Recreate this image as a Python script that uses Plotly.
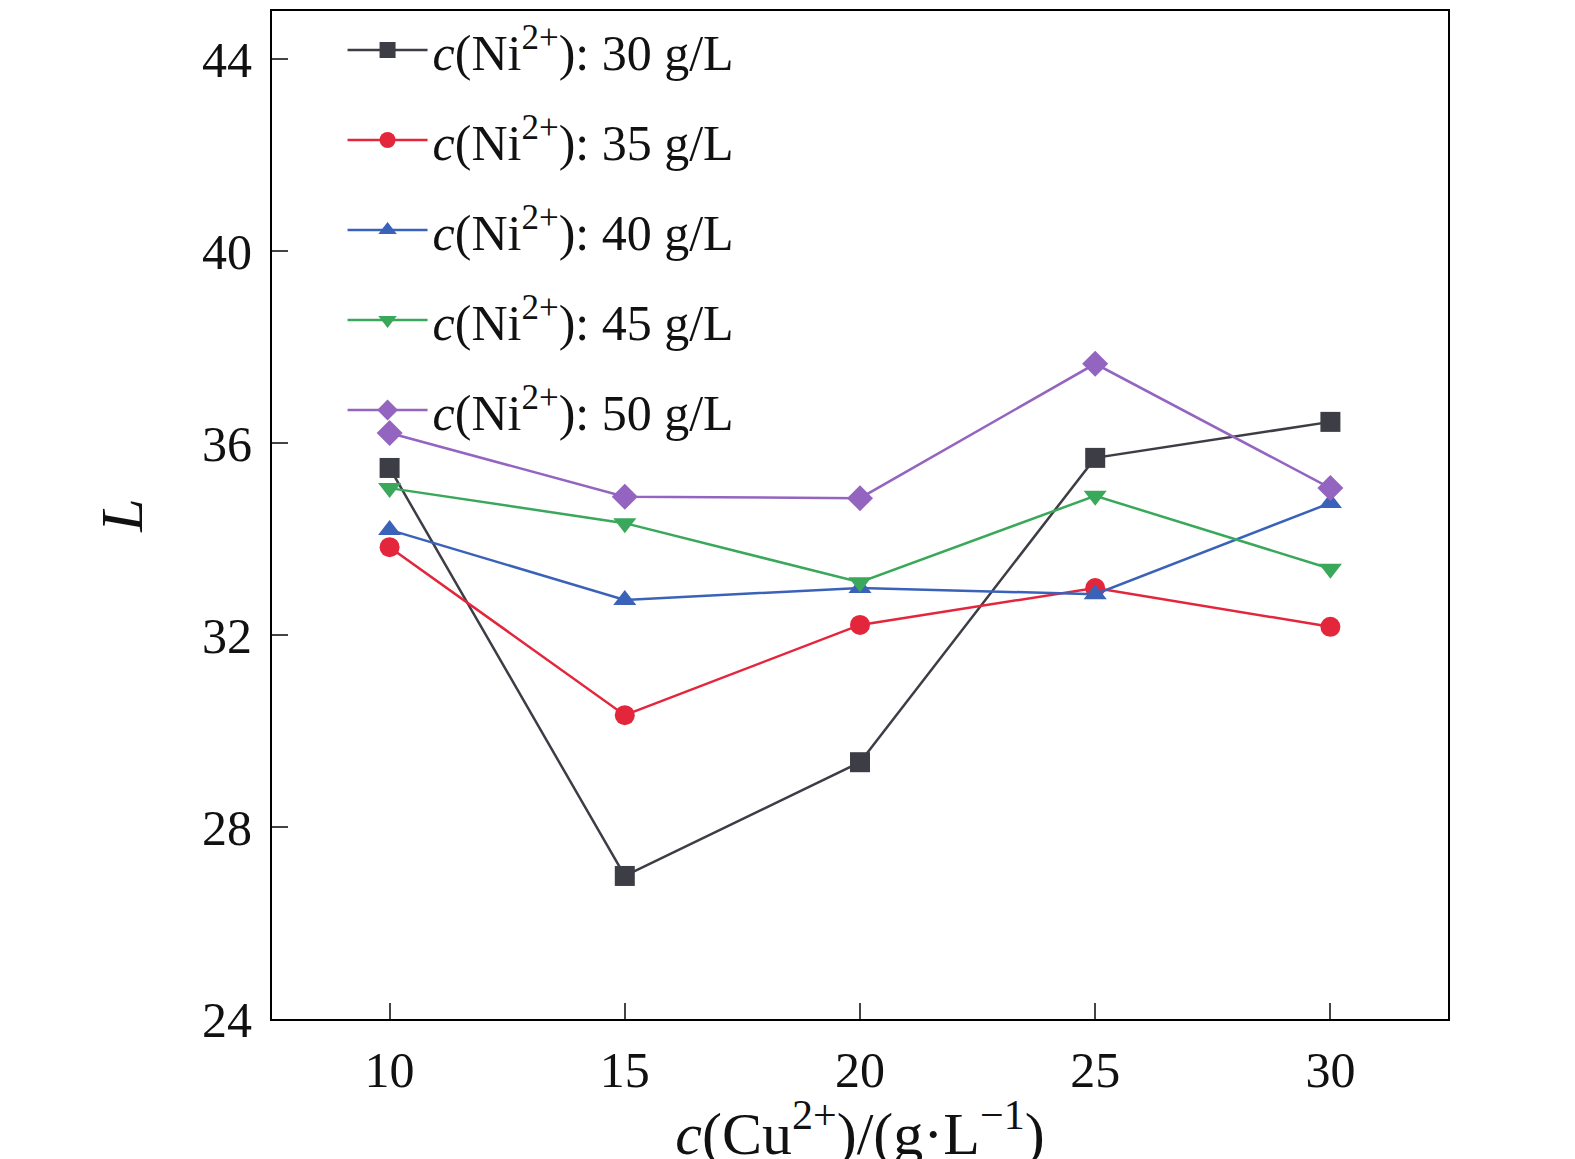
import plotly.graph_objects as go

x = [10, 15, 20, 25, 30]
ni_labels = ["30", "35", "40", "45", "50"]
L30 = [35.48, 26.98, 29.35, 35.69, 36.44]
L35 = [33.83, 30.33, 32.21, 32.98, 32.17]
L40 = [34.19, 32.73, 32.98, 32.85, 34.75]
L45 = [35.06, 34.33, 33.10, 34.90, 33.38]
L50 = [36.21, 34.88, 34.85, 37.65, 35.06]
series = [L30, L35, L40, L45, L50]
colors = ["#3d3d45", "#e4263c", "#3a62b8", "#3aa85a", "#9465c0"]
symbols = ["square", "circle", "triangle-up", "triangle-down", "diamond"]

fig = go.Figure()
for i, (ys, c, s, lab) in enumerate(zip(series, colors, symbols, ni_labels)):
    fig.add_trace(go.Scatter(
        x=x, y=ys, mode="lines+markers", legendgroup=f"g{i}",
        name=f"<i>c</i>(Ni<sup>2+</sup>): {lab} g/L",
        line=dict(color=c, width=2.5),
        marker=dict(symbol=s, size=20, color=c)))

font = dict(family="Liberation Serif, Times New Roman, serif", size=50, color="#111")
fig.update_layout(
    width=1575, height=1159, paper_bgcolor="white", plot_bgcolor="white",
    margin=dict(l=264, r=135, t=3, b=148, autoexpand=False), font=font,
    legend=dict(x=0.06, y=1.0, xanchor="left", yanchor="top", tracegroupgap=22,
                bgcolor="rgba(0,0,0,0)", font=font, itemwidth=80),
    xaxis=dict(range=[7.5, 32.5], tickvals=x, ticks="inside", ticklen=16, tickwidth=2,
               showline=True, linecolor="black", linewidth=2, mirror=True, automargin=False,
               showgrid=False, zeroline=False, ticklabelstandoff=6,
               title=dict(text="<i>c</i>(Cu<sup>2+</sup>)/(g·L<sup>−1</sup>)", standoff=4)),
    yaxis=dict(range=[24, 45], tickvals=[24, 28, 32, 36, 40, 44], ticks="inside", ticklen=16,
               tickwidth=2, showline=True, linecolor="black", linewidth=2, mirror=True,
               showgrid=False, zeroline=False, automargin=False, ticklabelstandoff=8,
               title=dict(text="<i>L</i>", standoff=40)),
)
fig.write_html("out.html")
